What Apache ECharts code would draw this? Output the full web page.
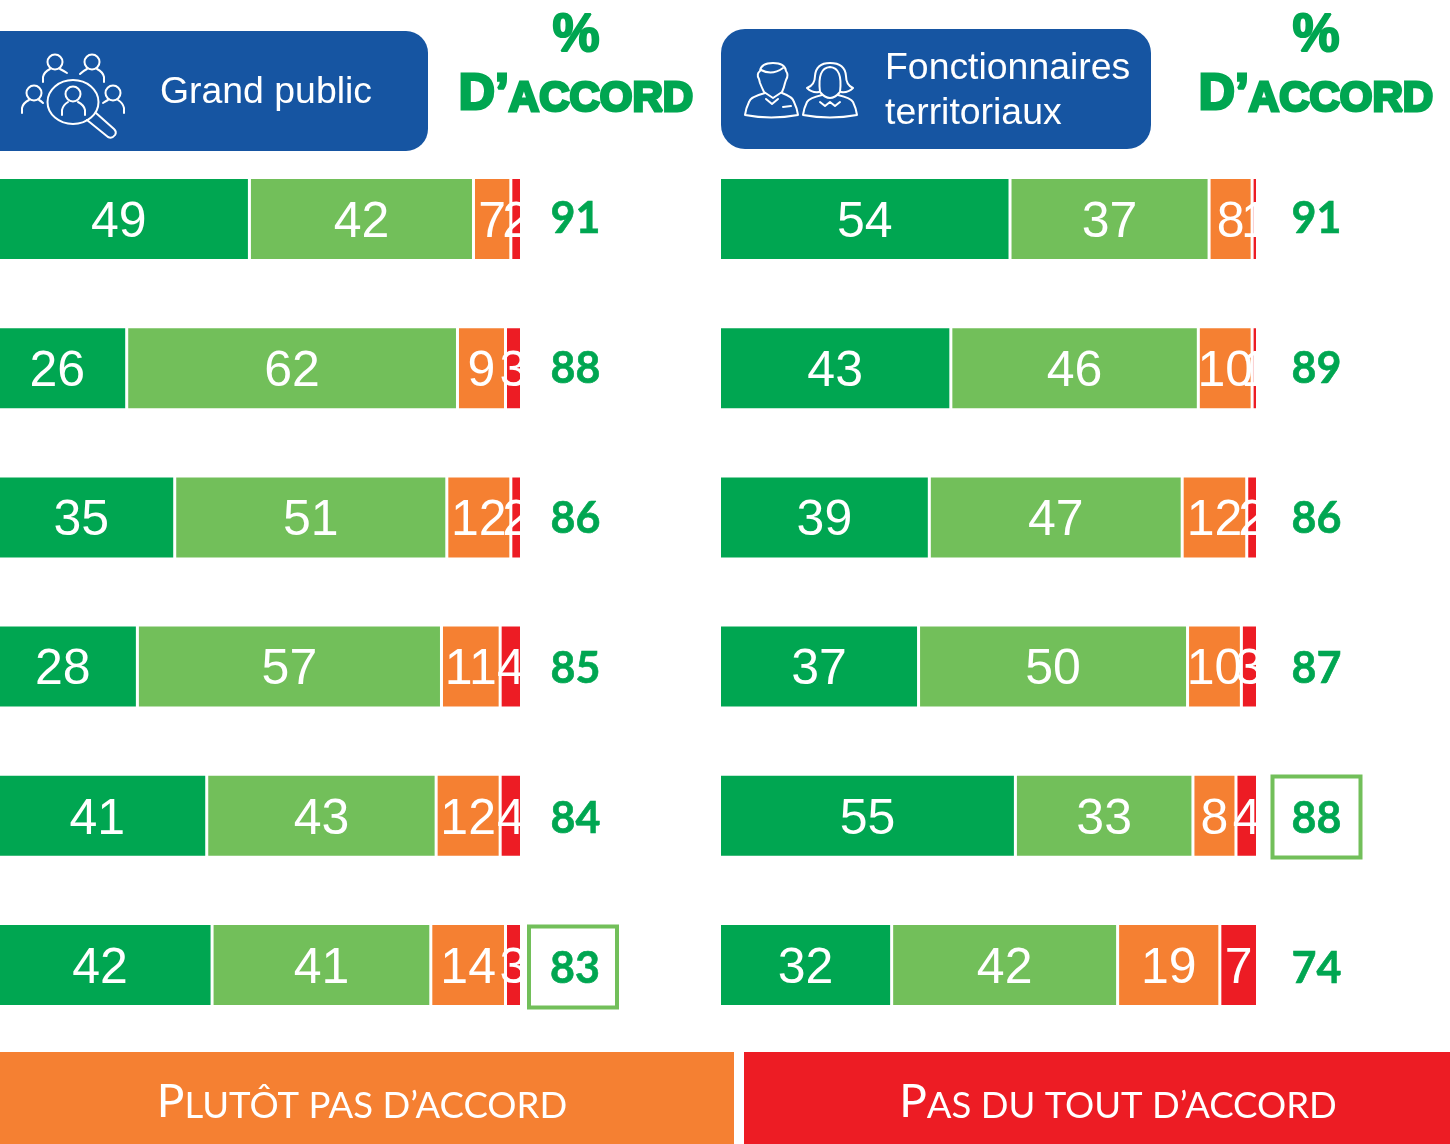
<!DOCTYPE html>
<html><head><meta charset="utf-8">
<style>html,body{margin:0;padding:0;background:#fff}#c{width:1450px;height:1144px}</style>
<script src="https://cdn.jsdelivr.net/npm/echarts@6/dist/echarts.min.js"></script>
</head><body><div id="c"></div>
<script>
const rows = ['1','2','3','4','5','6'];
const gpTout = [49,26,35,28,41,42];
const gpPlutot = [42,62,51,57,43,41];
const gpPlutotPas = [7,9,12,11,12,14];
const gpPasDuTout = [2,3,2,4,4,3];
const gpTotal = [91,88,86,85,84,83];
const ftTout = [54,43,39,37,55,32];
const ftPlutot = [37,46,47,50,33,42];
const ftPlutotPas = [8,10,12,10,8,19];
const ftPasDuTout = [1,1,2,3,4,7];
const ftTotal = [91,89,86,87,88,74];
const gpBoxed = 5, ftBoxed = 4;
const C = {dark:'#00A651',light:'#72BF5A',orange:'#F58032',red:'#ED1C24',blue:'#1655A2'};
const names = ['Tout à fait d’accord','Plutôt d’accord','Plutôt pas d’accord','Pas du tout d’accord'];
const colors = [C.dark,C.light,C.orange,C.red];

function bars(data, idx){
  return data.map((d,i)=>({
    name:names[i], type:'bar', stack:'s'+idx, xAxisIndex:idx, yAxisIndex:idx,
    barWidth:83, data:d, silent:true,
    itemStyle:{color:colors[i],borderColor:'#fff',borderWidth:1.5},
    label:{show:true,position:'inside',offset:[0,4],color:'#fff',fontSize:50,fontFamily:'Liberation Sans'}
  }));
}
function totalAxis(totals, boxed, grid, margin, shift){
  return {type:'category',gridIndex:grid,data:totals.map(String),inverse:true,position:'right',
    axisLine:{show:false},axisTick:{show:false},
    axisLabel:{margin,align:'center',interval:0,
      formatter:(v,i)=>i===boxed?`{box|${v}}${shift?'{sp|}':''}`:`{t|${v}}`,
      rich:{
        t:{color:C.dark,fontSize:43,fontWeight:'bold',fontFamily:'Lato',align:'center',padding:[4,0,0,0],textBorderColor:C.dark,textBorderWidth:0.6},
        box:{color:C.dark,fontSize:43,fontWeight:'bold',fontFamily:'Lato',width:shift?84:88,padding:[4,0,0,shift?4:0],height:77,lineHeight:77,align:'center',borderColor:C.light,borderWidth:4,textBorderColor:C.dark,textBorderWidth:0.6},
        sp:{width:shift}
      }}};
}
function heading(cx){
  return [
    {type:'text',z:5,style:{x:cx,y:36,text:'%',fill:C.dark,stroke:C.dark,lineWidth:2,font:'bold 53px "Liberation Sans"',align:'center',verticalAlign:'middle'}},
    {type:'text',z:5,style:{x:cx,y:95,fill:C.dark,align:'center',verticalAlign:'middle',
      text:'{a|D’}{b|ACCORD}',rich:{a:{font:'bold 50px "Liberation Sans"',fill:C.dark,stroke:C.dark,lineWidth:3},b:{font:'bold 42px "Liberation Sans"',fill:C.dark,stroke:C.dark,lineWidth:3,verticalAlign:'bottom'}}}}
  ];
}
let shapeId = 0;
function pe(d, lw){
  const name = 'iconPath' + (shapeId++);
  echarts.graphic.registerShape(name, echarts.graphic.extendPath(d, {}));
  return {type:name,silent:true,style:{stroke:'#fff',fill:'none',lineWidth:lw||2,lineCap:'round',lineJoin:'round'}};
}
const ring = (cx,cy,r)=>({type:'circle',silent:true,shape:{cx,cy,r},style:{stroke:'#fff',fill:'none',lineWidth:2}});
const option = {
  animation:false,
  backgroundColor:'#fff',
  textStyle:{fontFamily:'Liberation Sans'},
  grid:[
    {left:-12,top:144.4,width:533.5,height:895.2,outerBoundsMode:'none'},
    {left:719.5,top:144.4,width:538,height:895.2,outerBoundsMode:'none'},
    {left:-12,top:142,width:533.5,height:900,outerBoundsMode:'none'},
    {left:719.5,top:142,width:538,height:900,outerBoundsMode:'none'}
  ],
  xAxis:[0,1,2,3].map(g=>({type:'value',gridIndex:g,min:0,max:100,show:false})),
  yAxis:[
    {type:'category',gridIndex:0,data:rows,inverse:true,show:false},
    {type:'category',gridIndex:1,data:rows,inverse:true,show:false},
    totalAxis(gpTotal,gpBoxed,2,54,5),
    totalAxis(ftTotal,ftBoxed,3,59,0)
  ],
  series:[...bars([gpTout,gpPlutot,gpPlutotPas,gpPasDuTout],0),...bars([ftTout,ftPlutot,ftPlutotPas,ftPasDuTout],1)],
  graphic:{elements:[
    {type:'rect',shape:{x:-30,y:31,width:458,height:120,r:22},style:{fill:C.blue}},
    {type:'rect',shape:{x:721,y:29,width:430,height:120,r:24},style:{fill:C.blue}},
    {type:'text',style:{x:160,y:93,text:'Grand public',fill:'#fff',font:'37.4px "Liberation Sans"',verticalAlign:'middle'}},
    {type:'text',style:{x:885,y:69,text:'Fonctionnaires',fill:'#fff',font:'37.4px "Liberation Sans"',verticalAlign:'middle'}},
    {type:'text',style:{x:885,y:114,text:'territoriaux',fill:'#fff',font:'37.4px "Liberation Sans"',verticalAlign:'middle'}},
    ...heading(576),
    ...heading(1316),
    {type:'rect',shape:{x:0,y:1052,width:734,height:92},style:{fill:C.orange}},
    {type:'rect',shape:{x:744,y:1052,width:706,height:92},style:{fill:C.red}},
    {type:'text',style:{x:362,y:1102,align:'center',verticalAlign:'middle',fill:'#fff',text:'{a|P}{b|LUTÔT PAS D’ACCORD}',
      rich:{a:{font:'46px Lato',fill:'#fff'},b:{font:'36.5px Lato',fill:'#fff',verticalAlign:'bottom'}}}},
    {type:'text',style:{x:1118,y:1102,align:'center',verticalAlign:'middle',fill:'#fff',text:'{a|P}{b|AS DU TOUT D’ACCORD}',
      rich:{a:{font:'46px Lato',fill:'#fff'},b:{font:'36.5px Lato',fill:'#fff',verticalAlign:'bottom'}}}},
    // crowd icon
    ring(55,62,7.5), pe('M43 82 L43 77 Q44 72 50 69 M60 69 Q64 71 67 73'),
    ring(92,62,7.5), pe('M104 82 L104 77 Q103 72 97 69 M87 69 Q83 71 80 74'),
    ring(34,93,7.5), pe('M22 113 L22 108 Q23 103 29 100 M39 100 Q41 101 43 103'),
    ring(113,93,7.5), pe('M124 113 L124 108 Q123 103 118 100 M108 100 Q106 101 103 103'),
    {type:'ellipse',silent:true,shape:{cx:73,cy:102,rx:25.5,ry:22},style:{stroke:'#fff',fill:'none',lineWidth:2}},
    ring(73,94,7.5), pe('M62 115 L62 110 Q63 105 68 102 M78 102 Q84 105 85 110 L85 115'),
    pe('M87 120 L108 137 Q112 139 115 135 Q117 132 114 129 L96 113'),
    // civil servants icon
    pe('M759 79 Q756 74 760 71 Q761 63 773 63 Q785 63 786 71 Q789 75 786 80 L785 83 Q784 88 782 92 L773 98 L764 92 Q762 88 760 83 Z'),
    pe('M761 70 Q772 76 783 68'),
    pe('M765 93 Q750 97 749 102 Q746 108 745 115 Q771 120 798 115 Q797 108 794 102 Q793 97 782 93'),
    pe('M766 99 L772 104 L778 99'),
    pe('M783 107 L791 106'),
    pe('M830 63 Q816 63 815 76 Q815 85 807 88 Q812 93 819 92 M830 63 Q845 63 846 76 Q846 85 853 88 Q848 93 841 92'),
    pe('M820 92 Q817 68 830 67 Q843 68 840 92 Q835 98 830 98 Q825 98 820 92'),
    pe('M822 95 Q809 98 807 102 Q804 108 803 115 Q830 120 857 115 Q856 108 853 102 Q851 98 838 95'),
    pe('M820 102 L825 106 L830 102 L835 106 L840 102')
  ]}
};
echarts.init(document.getElementById('c'),null,{renderer:'canvas'}).setOption(option);
</script></body></html>
